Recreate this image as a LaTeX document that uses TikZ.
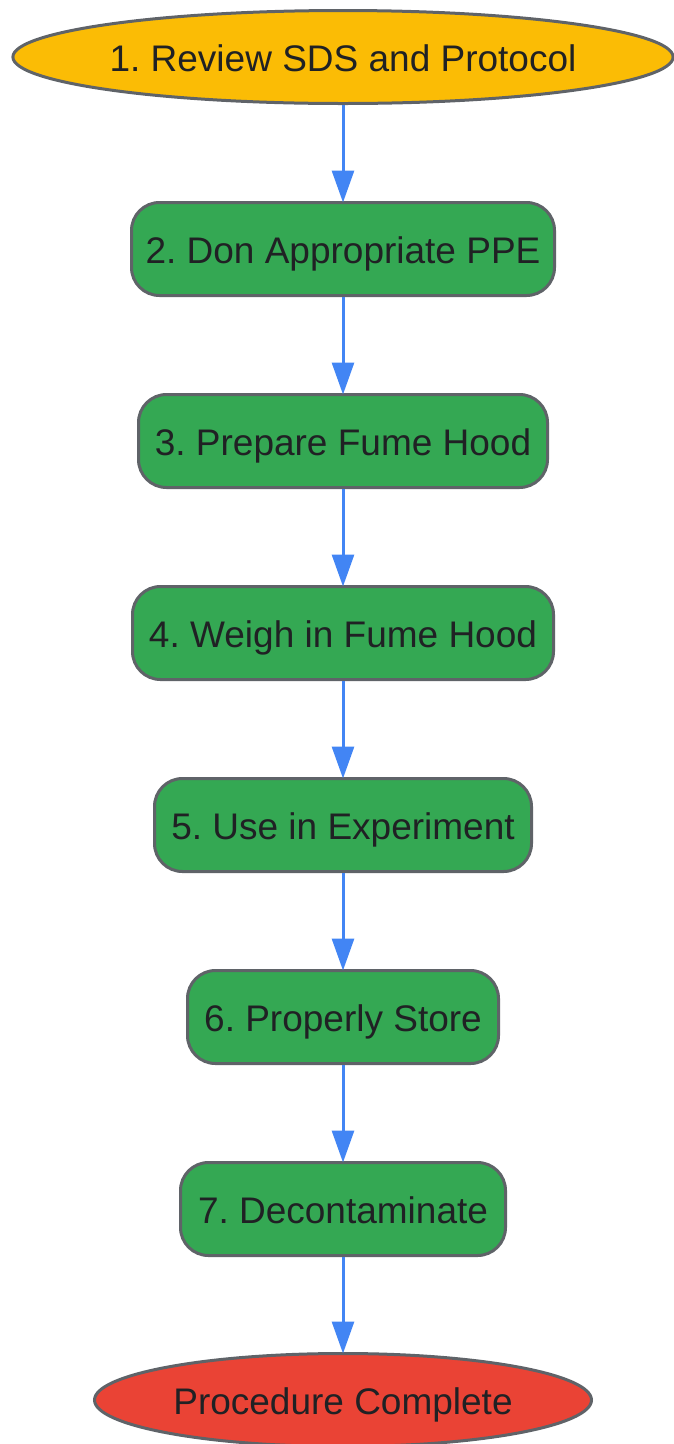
\documentclass[tikz,border=0pt]{standalone}
\usepackage{fontspec}
\setmainfont{Liberation Sans}
\usetikzlibrary{shapes.geometric,arrows.meta}
\definecolor{bordergray}{HTML}{5F6368}
\definecolor{startyellow}{HTML}{FBBC05}
\definecolor{stepgreen}{HTML}{34A853}
\definecolor{endred}{HTML}{EA4335}
\definecolor{arrowblue}{HTML}{4285F4}
\definecolor{textdark}{HTML}{202124}
\frenchspacing
\begin{document}
\begin{tikzpicture}[x=1pt,y=-1pt,
  base/.style={draw=bordergray,line width=3pt,text=textdark,inner sep=0pt,
    text height=29pt,text depth=0pt,
    font=\fontsize{37}{44}\selectfont\frenchspacing},
  terminal/.style={base,ellipse,minimum height=93pt},
  stepbox/.style={base,rectangle,rounded corners=28pt,fill=stepgreen,minimum height=93pt},
  flow/.style={draw=arrowblue,line width=3pt,-{Triangle[length=32pt,width=22pt]}}
]
\useasboundingbox (0,0) rectangle (674,1444);
\node[terminal,fill=startyellow,minimum width=659pt] (s1) at (343,57) {1. Review SDS and Protocol};
\node[stepbox,minimum width=423pt] (s2) at (343,249) {2. Don Appropriate PPE};
\node[stepbox,minimum width=409pt] (s3) at (343,441) {3. Prepare Fume Hood};
\node[stepbox,minimum width=421pt] (s4) at (343,633) {4. Weigh in Fume Hood};
\node[stepbox,minimum width=377pt] (s5) at (343,825) {5. Use in Experiment};
\node[stepbox,minimum width=311pt] (s6) at (343,1017) {6. Properly Store};
\node[stepbox,minimum width=325pt] (s7) at (343,1209) {7. Decontaminate};
\node[terminal,fill=endred,minimum width=497pt] (s8) at (343,1400) {Procedure Complete};
\foreach \a/\b in {s1/s2,s2/s3,s3/s4,s4/s5,s5/s6,s6/s7,s7/s8}
  \draw[flow] (\a.south) -- ([yshift=-1.5pt]\b.north);
\end{tikzpicture}
\end{document}
